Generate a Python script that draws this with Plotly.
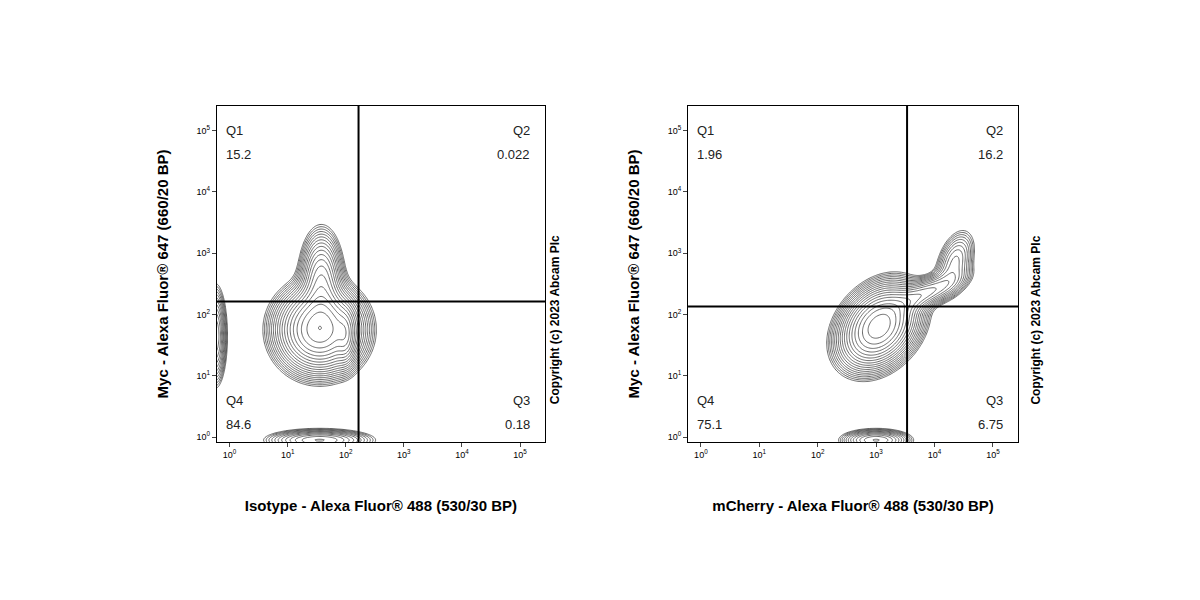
import numpy as np
import plotly.graph_objects as go
from plotly.subplots import make_subplots

# Panel titles and quadrant values
x_titles = ["Isotype - Alexa Fluor® 488 (530/30 BP)", "mCherry - Alexa Fluor® 488 (530/30 BP)"]
y_title = "Myc - Alexa Fluor® 647 (660/20 BP)"
quad_left = {"Q1": "15.2", "Q2": "0.022", "Q3": "0.18", "Q4": "84.6"}
quad_right = {"Q1": "1.96", "Q2": "16.2", "Q3": "6.75", "Q4": "75.1"}
gate_left = [2.22, 2.21]   # log10 x, log10 y
gate_right = [3.53, 2.13]
tick_vals = [0, 1, 2, 3, 4, 5]
tick_text = ["10<sup>0</sup>", "10<sup>1</sup>", "10<sup>2</sup>", "10<sup>3</sup>", "10<sup>4</sup>", "10<sup>5</sup>"]

# Population blobs (log10 x center, log10 y center, sx, sy, rho, weight)
blobs_left = [
    [1.55, 1.75, 0.36, 0.34, 0.0, 1.0],
    [1.58, 2.55, 0.18, 0.40, 0.0, 0.35],
    [2.0, 1.65, 0.09, 0.25, 0.0, 0.25],
    [-0.25, 1.65, 0.10, 0.40, 0.0, 0.25],
    [1.55, -0.05, 0.45, 0.09, 0.0, 0.25],
]
blobs_right = [
    [3.05, 1.80, 0.33, 0.33, 0.3, 1.0],
    [3.85, 2.35, 0.35, 0.18, 0.7, 0.25],
    [4.35, 2.85, 0.18, 0.28, 0.4, 0.14],
    [3.00, -0.05, 0.30, 0.09, 0.0, 0.25],
]

def density(blobs, xs, ys):
    X, Y = np.meshgrid(xs, ys)
    Z = np.zeros_like(X)
    for cx, cy, sx, sy, r, w in blobs:
        dx = (X - cx) / sx
        dy = (Y - cy) / sy
        Z += w * np.exp(-(dx * dx - 2 * r * dx * dy + dy * dy) / (2 * (1 - r * r)))
    return Z

xs = np.linspace(-0.22, 5.43, 300)
ys = np.linspace(-0.08, 5.4, 300)

fig = make_subplots(rows=1, cols=2, horizontal_spacing=0.12)
for i, (blobs, gate, quad) in enumerate([(blobs_left, gate_left, quad_left), (blobs_right, gate_right, quad_right)]):
    col = i + 1
    Z = density(blobs, xs, ys)
    Zl = np.log10(Z + 1e-9)
    fig.add_trace(go.Contour(x=xs, y=ys, z=Zl, showscale=False,
                             contours=dict(coloring="lines", start=-1.6, end=0.05, size=0.09),
                             colorscale=[[0, "#444"], [1, "#444"]], line=dict(width=0.8),
                             hoverinfo="skip"), row=1, col=col)
    xa = "x" if col == 1 else "x2"
    ya = "y" if col == 1 else "y2"
    fig.add_shape(type="line", x0=gate[0], x1=gate[0], y0=-0.08, y1=5.4, xref=xa, yref=ya, line=dict(color="black", width=2))
    fig.add_shape(type="line", x0=-0.22, x1=5.43, y0=gate[1], y1=gate[1], xref=xa, yref=ya, line=dict(color="black", width=2))
    for key, px, py, xan in [("Q1", -0.1, 5.0, "left"), ("Q2", 5.2, 5.0, "right"), ("Q4", -0.1, 0.6, "left"), ("Q3", 5.2, 0.6, "right")]:
        fig.add_annotation(x=px, y=py, xref=xa, yref=ya, text=key, showarrow=False,
                           xanchor=xan, yanchor="middle", font=dict(size=13, color="#222"))
        fig.add_annotation(x=px, y=py - 0.39, xref=xa, yref=ya, text=quad[key], showarrow=False,
                           xanchor=xan, yanchor="middle", font=dict(size=13, color="#222"))
    fig.update_xaxes(row=1, col=col, range=[-0.22, 5.43], tickvals=tick_vals, ticktext=tick_text, showgrid=False,
                     zeroline=False, showline=True, linecolor="black", mirror=True, ticks="outside", ticklen=4,
                     automargin=False, tickfont=dict(size=9),
                     title=dict(text="<b>" + x_titles[i] + "</b>", font=dict(size=15), standoff=41))
    fig.update_yaxes(row=1, col=col, range=[-0.08, 5.4], tickvals=tick_vals, ticktext=tick_text, showgrid=False,
                     zeroline=False, showline=True, linecolor="black", mirror=True, ticks="outside", ticklen=4,
                     automargin=False, tickfont=dict(size=9),
                     title=dict(text="<b>" + y_title + "</b>", font=dict(size=15), standoff=24))

fig.update_layout(width=1200, height=600, plot_bgcolor="white", paper_bgcolor="white", showlegend=False,
                  font=dict(family="Liberation Sans, Arial", color="black"),
                  margin=dict(l=0, r=0, t=0, b=0))
fig.update_xaxes(domain=[0.174, 0.4475], row=1, col=1)
fig.update_xaxes(domain=[0.5667, 0.8417], row=1, col=2)
fig.update_yaxes(domain=[0.2767, 0.8367])
for xp in [0.456, 0.8505]:
    fig.add_annotation(x=xp, y=0.48, xref="paper", yref="paper", text="<b>Copyright (c) 2023 Abcam Plc</b>",
                       textangle=-90, showarrow=False, xanchor="left" if False else "center",
                       xshift=0 if xp < 0.5 else 7, font=dict(size=12))
fig.write_html("out.html")
